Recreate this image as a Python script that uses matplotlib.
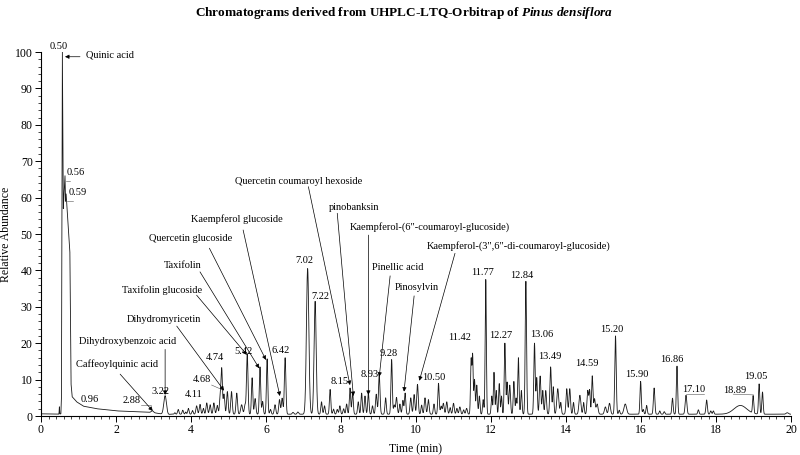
import numpy as np
import matplotlib
matplotlib.use("Agg")
import matplotlib.pyplot as plt
from matplotlib.ticker import MultipleLocator

plt.rcParams["font.family"] = ["Liberation Serif", "DejaVu Serif"]
plt.rcParams["mathtext.fontset"] = "custom"
plt.rcParams["mathtext.it"] = "Liberation Serif:italic:bold"
plt.rcParams["mathtext.rm"] = "Liberation Serif:bold"

# envelope of the trace (main quinic acid peak, its tail and the baseline)
base_t = [0, 0.48, 0.53, 0.545, 0.57, 0.595, 0.64, 0.655, 0.67, 0.75, 0.77, 0.80,
          0.83, 0.95, 1.13, 1.48, 2.02, 2.55, 2.91, 3.08, 3.36, 3.45, 20]
base_a = [0.6, 0.5, 0.6, 5, 100, 57, 66, 59, 61, 48, 45, 9,
          5.3, 3.9, 2.7, 2.0, 1.4, 1.2, 1.0, 0.8, 0.3, 0.5, 0.5]

# peaks: retention time, height above envelope, width
peak_rt = [0.49, 2.97, 3.31, 3.57, 3.66, 3.78, 3.86, 3.93, 4.04, 4.15, 4.24, 4.33,
           4.42, 4.51, 4.61, 4.70, 4.78, 4.82, 4.88, 4.97, 5.08, 5.22, 5.35, 5.44,
           5.50, 5.63, 5.71, 5.84, 5.91, 6.03, 6.12, 6.24, 6.36, 6.43, 6.51, 6.72,
           6.85, 7.11, 7.31, 7.48, 7.56, 7.71, 7.80, 7.90, 7.97, 8.07, 8.15, 8.24,
           8.31, 8.46, 8.55, 8.64, 8.73, 8.84, 8.94, 9.02, 9.19, 9.35, 9.42, 9.48,
           9.57, 9.65, 9.71, 9.86, 9.95, 10.04, 10.15, 10.24, 10.33, 10.48, 10.60, 10.67,
           10.73, 10.82, 10.91, 11.00, 11.09, 11.17, 11.27, 11.35, 11.47, 11.51, 11.56, 11.62,
           11.69, 11.79, 11.86, 12.02, 12.08, 12.14, 12.22, 12.28, 12.37, 12.43, 12.50, 12.61,
           12.67, 12.73, 12.81, 12.93, 13.16, 13.22, 13.31, 13.38, 13.46, 13.59, 13.66, 13.78,
           13.86, 14.02, 14.10, 14.20, 14.37, 14.47, 14.58, 14.63, 14.70, 14.76, 14.83, 15.05,
           15.16, 15.32, 15.42, 15.58, 15.99, 16.06, 16.15, 16.35, 16.50, 16.62, 16.84, 16.96,
           17.20, 17.53, 17.75, 17.86, 17.93, 18.65, 18.99, 19.15, 19.24, 19.90]
peak_height = [2.0, 0.5, 5.2, 0.4, 1.3, 1.1, 0.6, 1.6, 1.0, 2.3, 2.7, 1.6,
               3.1, 2.6, 3.1, 2.4, 5.0, 12.0, 5.5, 6.2, 6.2, 5.8, 2.6, 2.5,
               16.5, 10.0, 4.3, 13.0, 3.5, 15.2, 1.3, 2.6, 4.0, 4.4, 15.5, 0.5,
               0.6, 40.0, 31.0, 3.4, 2.3, 6.8, 1.4, 1.3, 2.3, 1.5, 2.8, 7.2,
               6.0, 3.4, 5.8, 5.0, 5.8, 2.3, 5.5, 10.8, 4.5, 15.0, 2.5, 4.6,
               2.8, 3.8, 5.8, 4.5, 5.4, 8.2, 2.5, 4.5, 4.0, 2.8, 8.5, 2.2,
               3.0, 3.4, 1.8, 3.0, 1.6, 2.0, 1.2, 1.6, 15.0, 16.0, 9.5, 8.0,
               5.0, 4.0, 37.0, 5.0, 11.5, 6.5, 8.4, 5.0, 19.5, 8.8, 8.0, 9.0,
               4.4, 15.5, 6.5, 36.5, 19.5, 10.0, 10.5, 6.5, 6.5, 13.0, 7.5, 7.0,
               3.2, 7.0, 7.0, 3.2, 5.2, 3.2, 6.5, 6.5, 10.5, 4.2, 2.8, 2.0,
               3.0, 21.5, 1.1, 2.8, 9.0, 1.3, 2.4, 7.2, 0.9, 0.7, 4.4, 13.2,
               5.2, 1.2, 3.9, 0.9, 0.9, 2.4, 4.8, 8.3, 6.1, 0.4]
peak_width = [0.005, 0.03, 0.035, 0.015, 0.018, 0.018, 0.015, 0.018, 0.018, 0.02, 0.02, 0.018,
              0.02, 0.02, 0.02, 0.02, 0.02, 0.018, 0.02, 0.02, 0.02, 0.02, 0.025, 0.02,
              0.02, 0.018, 0.02, 0.018, 0.018, 0.018, 0.018, 0.02, 0.02, 0.02, 0.02, 0.02,
              0.02, 0.032, 0.028, 0.018, 0.018, 0.018, 0.018, 0.018, 0.018, 0.018, 0.018, 0.018,
              0.018, 0.018, 0.018, 0.018, 0.018, 0.018, 0.02, 0.02, 0.018, 0.018, 0.018, 0.02,
              0.018, 0.018, 0.018, 0.02, 0.02, 0.02, 0.018, 0.02, 0.02, 0.018, 0.018, 0.018,
              0.02, 0.02, 0.018, 0.02, 0.018, 0.02, 0.018, 0.02, 0.016, 0.015, 0.016, 0.018,
              0.016, 0.016, 0.016, 0.016, 0.016, 0.015, 0.016, 0.015, 0.017, 0.017, 0.02, 0.017,
              0.016, 0.017, 0.017, 0.018, 0.018, 0.017, 0.02, 0.017, 0.02, 0.02, 0.017, 0.025,
              0.017, 0.02, 0.02, 0.017, 0.025, 0.017, 0.02, 0.017, 0.017, 0.02, 0.025, 0.025,
              0.025, 0.019, 0.017, 0.035, 0.017, 0.017, 0.017, 0.019, 0.017, 0.017, 0.017, 0.017,
              0.022, 0.017, 0.019, 0.017, 0.017, 0.17, 0.016, 0.017, 0.017, 0.03]

# retention time labels: text, x, y
rt_labels = [("0.50", 0.475, 101.5), ("0.56", 0.915, 67.0), ("0.59", 0.99, 61.3),
             ("0.96", 1.31, 4.4), ("2.88", 2.42, 4.2), ("3.22", 3.18, 6.7),
             ("4.11", 4.08, 6.0), ("4.68", 4.29, 9.9), ("4.74", 4.65, 16.1),
             ("5.42", 5.41, 17.7), ("6.42", 6.38, 18.1), ("7.02", 7.02, 42.6),
             ("7.22", 7.44, 32.8), ("8.15", 7.96, 9.4), ("8.93", 8.76, 11.5),
             ("9.28", 9.26, 17.2), ("10.50", 10.47, 10.6), ("11.42", 11.16, 21.6),
             ("11.77", 11.77, 39.4), ("12.27", 12.27, 22.0), ("12.84", 12.83, 38.7),
             ("13.06", 13.35, 22.4), ("13.49", 13.56, 16.3), ("14.59", 14.56, 14.3),
             ("15.20", 15.21, 23.8), ("15.90", 15.9, 11.3), ("16.86", 16.82, 15.4),
             ("17.10", 17.4, 7.3), ("18.89", 18.5, 7.0), ("19.05", 19.05, 10.8)]

# compound labels: text, text x, text y, alignment, line start, arrow tip
compounds = [
    ("Quinic acid", 1.2, 99.2, "left", (1.04, 98.7), (0.64, 98.7)),
    ("Caffeoylquinic acid", 2.04, 14.3, "center", (2.11, 11.5), (2.98, 1.4)),
    ("Dihydroxybenzoic acid", 2.32, 20.4, "center", (3.31, 18.3), (3.31, 5.8)),
    ("Dihydromyricetin", 3.28, 26.6, "center", (3.62, 24.7), (4.88, 7.0)),
    ("Taxifolin glucoside", 4.31, 34.6, "right", (4.15, 33.2), (5.49, 16.8)),
    ("Taxifolin", 3.77, 41.3, "center", (4.24, 39.6), (5.82, 13.1)),
    ("Quercetin glucoside", 5.09, 48.8, "right", (4.49, 46.1), (6.0, 15.4)),
    ("Kaempferol glucoside", 5.23, 54.0, "center", (5.39, 51.1), (6.37, 5.5)),
    ("Quercetin coumaroyl hexoside", 6.87, 64.4, "center", (7.13, 63.0), (8.24, 8.5)),
    ("pinobanksin", 8.36, 57.4, "center", (7.90, 55.7), (8.33, 5.5)),
    ('Kaempferol-(6"-coumaroyl-glucoside)', 10.37, 51.8, "center", (8.73, 49.7), (8.73, 5.8)),
    ("Pinellic acid", 9.51, 40.7, "center", (9.31, 38.5), (9.02, 10.8)),
    ("Pinosylvin", 10.01, 35.4, "center", (9.95, 33.0), (9.68, 6.7)),
    ('Kaempferol-(3",6"-di-coumaroyl-glucoside)', 10.29, 46.7, "left", (11.04, 44.7), (10.09, 9.7)),
]

# short leader lines under some retention time labels
leaders = [((2.66, 3.0), (2.92, 3.0)), ((4.55, 8.5), (4.86, 7.1)),
           ((17.2, 6.0), (17.68, 6.0)), ((18.46, 6.0), (19.0, 5.8)),
           ((0.66, 64.5), (0.78, 64.5)), ((0.68, 59.0), (0.84, 59.0))]

t = np.linspace(0, 20, 8001)
y = np.interp(t, base_t, base_a)
for rt, h, w in zip(peak_rt, peak_height, peak_width):
    y = y + h * np.exp(-0.5 * ((t - rt) / w) ** 2)

fig = plt.figure(figsize=(8, 4.55), dpi=100)
ax = fig.add_axes([0.05125, 0.0857, 0.9375, 0.8])
ax.plot(t, y, color="#1a1a1a", lw=0.6)

ax.set_xlim(0, 20)
ax.set_ylim(0, 100)
ax.spines["top"].set_visible(False)
ax.spines["right"].set_visible(False)
for s in ["left", "bottom"]:
    ax.spines[s].set_linewidth(0.8)
ax.xaxis.set_major_locator(MultipleLocator(2))
ax.xaxis.set_minor_locator(MultipleLocator(0.2))
ax.yaxis.set_major_locator(MultipleLocator(10))
ax.yaxis.set_minor_locator(MultipleLocator(2))
ax.tick_params(which="major", direction="out", length=4, width=0.7, labelsize=8.5, pad=2)
ax.tick_params(which="minor", direction="out", length=2, width=0.5)

for txt, x, yy in rt_labels:
    ax.text(x, yy, txt, fontsize=7.5, ha="center", va="center", clip_on=False)

for txt, x, yy, ha, start, tip in compounds:
    ax.text(x, yy, txt, fontsize=7.5, ha=ha, va="center")
    ax.annotate("", xy=tip, xytext=start,
                arrowprops=dict(arrowstyle="-|>", lw=0.5, color="black",
                                mutation_scale=6, shrinkA=0, shrinkB=0))

for p0, p1 in leaders:
    ax.plot([p0[0], p1[0]], [p0[1], p1[1]], color="#555555", lw=0.4)

ax.set_xlabel("Time (min)", fontsize=8.5, labelpad=2)
ax.set_ylabel("Relative Abundance", fontsize=8.5, labelpad=2)
ax.xaxis.set_label_coords(0.499, -0.075)

fig.text(0.505, 0.972,
         r"Chromatograms derived from UHPLC-LTQ-Orbitrap of $\mathit{Pinus\ densiflora}$",
         fontsize=9.5, fontweight="bold", ha="center", va="center")

fig.savefig("out.png", dpi=100)
